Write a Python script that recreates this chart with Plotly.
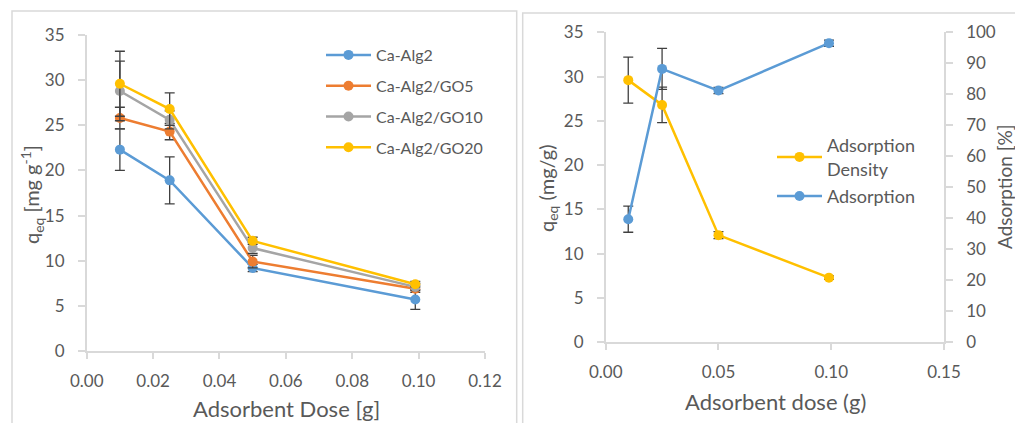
import plotly.graph_objects as go

W, H = 1015, 423

# ---------------- Left chart data ----------------
dose_left = [0.01, 0.025, 0.05, 0.099]
series_names = ["Ca-Alg2", "Ca-Alg2/GO5", "Ca-Alg2/GO10", "Ca-Alg2/GO20"]
ca_alg2 = [22.3, 18.9, 9.2, 5.7]
ca_alg2_err = [2.3, 2.6, 0.4, 1.1]
ca_alg2_go5 = [25.8, 24.3, 9.9, 6.9]
ca_alg2_go5_err = [1.2, 0.9, 0.7, 0.4]
ca_alg2_go10 = [28.8, 25.6, 11.4, 7.1]
ca_alg2_go10_err = [3.3, 1.0, 0.6, 0.4]
ca_alg2_go20 = [29.6, 26.8, 12.2, 7.4]
ca_alg2_go20_err = [3.6, 1.8, 0.4, 0.3]
left_colors = ["#5B9BD5", "#ED7D31", "#A5A5A5", "#FFC000"]

# ---------------- Right chart data ----------------
dose_right = [0.01, 0.025, 0.05, 0.099]
ads_density = [29.6, 26.8, 12.1, 7.3]
ads_density_err = [2.6, 2.0, 0.4, 0.2]
adsorption_pct = [39.7, 88.2, 81.2, 96.5]
adsorption_pct_err = [4.2, 6.6, 1.0, 1.0]

FONT = "Lato, 'Open Sans', sans-serif"
TXT = "#595959"
AX = "#D9D9D9"
ERR = "#404040"


def px_x(p):
    return p / W


def px_y(p):
    return 1 - p / H


fig = go.Figure()

left_vals = [ca_alg2, ca_alg2_go5, ca_alg2_go10, ca_alg2_go20]
left_errs = [ca_alg2_err, ca_alg2_go5_err, ca_alg2_go10_err, ca_alg2_go20_err]
for i, (name, vals, errs, col) in enumerate(zip(series_names, left_vals, left_errs, left_colors)):
    fig.add_trace(go.Scatter(
        x=dose_left, y=vals, name=name, mode="lines+markers",
        line=dict(color=col, width=2.5),
        marker=dict(color=col, size=10),
        error_y=dict(type="data", array=errs, color=ERR, thickness=1.3, width=5),
        xaxis="x", yaxis="y", legend="legend", legendgroup=f"g{i}",
    ))

fig.add_trace(go.Scatter(
    x=dose_right, y=ads_density, name="Adsorption<br>Density", mode="lines+markers",
    line=dict(color="#FFC000", width=2.5), marker=dict(color="#FFC000", size=10),
    error_y=dict(type="data", array=ads_density_err, color=ERR, thickness=1.3, width=5),
    xaxis="x2", yaxis="y2", legend="legend2", legendgroup="r1",
))
fig.add_trace(go.Scatter(
    x=dose_right, y=adsorption_pct, name="Adsorption", mode="lines+markers",
    line=dict(color="#5B9BD5", width=2.5), marker=dict(color="#5B9BD5", size=10),
    error_y=dict(type="data", array=adsorption_pct_err, color=ERR, thickness=1.3, width=5),
    xaxis="x2", yaxis="y3", legend="legend2", legendgroup="r2",
))

tickfont = dict(family=FONT, size=17, color=TXT)
common = dict(showgrid=False, zeroline=False, showline=True, linecolor=AX, linewidth=1.5,
              ticks="outside", tickcolor=AX, tickwidth=1.5, tickfont=tickfont, automargin=False)

fig.update_layout(
    width=W, height=H,
    margin=dict(l=0, r=0, t=0, b=0, autoexpand=False),
    paper_bgcolor="white", plot_bgcolor="white",
    font=dict(family=FONT, color=TXT),
    xaxis=dict(domain=[px_x(86.7), px_x(485)], range=[0, 0.12], tickvals=[0, 0.02, 0.04, 0.06, 0.08, 0.10, 0.12],
               tickformat=".2f", ticklen=6, ticklabelstandoff=8, anchor="y", **common),
    yaxis=dict(domain=[px_y(351), px_y(35)], range=[0, 35], dtick=5, ticklen=7,
               ticklabelstandoff=10, anchor="x", **common),
    xaxis2=dict(domain=[px_x(605.7), px_x(944)], range=[0, 0.15], tickvals=[0, 0.05, 0.10, 0.15],
                tickformat=".2f", ticklen=6, ticklabelstandoff=8, anchor="y2", **common),
    yaxis2=dict(domain=[px_y(342.3), px_y(32.3)], range=[0, 35], dtick=5, ticklen=7,
                ticklabelstandoff=10, anchor="x2", **common),
    yaxis3=dict(range=[0, 100], dtick=10, ticklen=7, overlaying="y2", side="right",
                ticklabelstandoff=10, anchor="x2", **common),
    legend=dict(x=px_x(321), y=px_y(38), xanchor="left", yanchor="top",
                font=dict(family=FONT, size=16, color=TXT), bgcolor="rgba(0,0,0,0)",
                tracegroupgap=7, itemwidth=45),
    legend2=dict(x=px_x(772), y=px_y(127), xanchor="left", yanchor="top",
                 font=dict(family=FONT, size=18, color=TXT), bgcolor="rgba(0,0,0,0)",
                 tracegroupgap=1, itemwidth=45),
    showlegend=True,
)

annos = [
    dict(text="Adsorbent Dose [g]", x=px_x(286), y=px_y(408), font=dict(size=22)),
    dict(text="q<sub>eq</sub> [mg g<sup>-1</sup>]", x=px_x(32), y=px_y(194), textangle=-90, font=dict(size=20)),
    dict(text="Adsorbent dose (g)", x=px_x(775), y=px_y(401), font=dict(size=22)),
    dict(text="q<sub>eq</sub> (mg/g)", x=px_x(547), y=px_y(188), textangle=-90, font=dict(size=20)),
    dict(text="Adsorption [%]", x=px_x(1004), y=px_y(187), textangle=-90, font=dict(size=19)),
]
for a in annos:
    a.update(xref="paper", yref="paper", showarrow=False, xanchor="center", yanchor="middle")
    a["font"].update(family=FONT, color=TXT)
    fig.add_annotation(**a)

# chart frames
fig.add_shape(type="rect", xref="paper", yref="paper", x0=px_x(12), x1=px_x(516.7), y0=-0.2, y1=px_y(11),
              line=dict(color=AX, width=1.5), fillcolor="rgba(0,0,0,0)", layer="below")
fig.add_shape(type="rect", xref="paper", yref="paper", x0=px_x(522.7), x1=1.2, y0=-0.2, y1=px_y(13),
              line=dict(color=AX, width=1.5), fillcolor="rgba(0,0,0,0)", layer="below")

fig.write_html("out.html")
